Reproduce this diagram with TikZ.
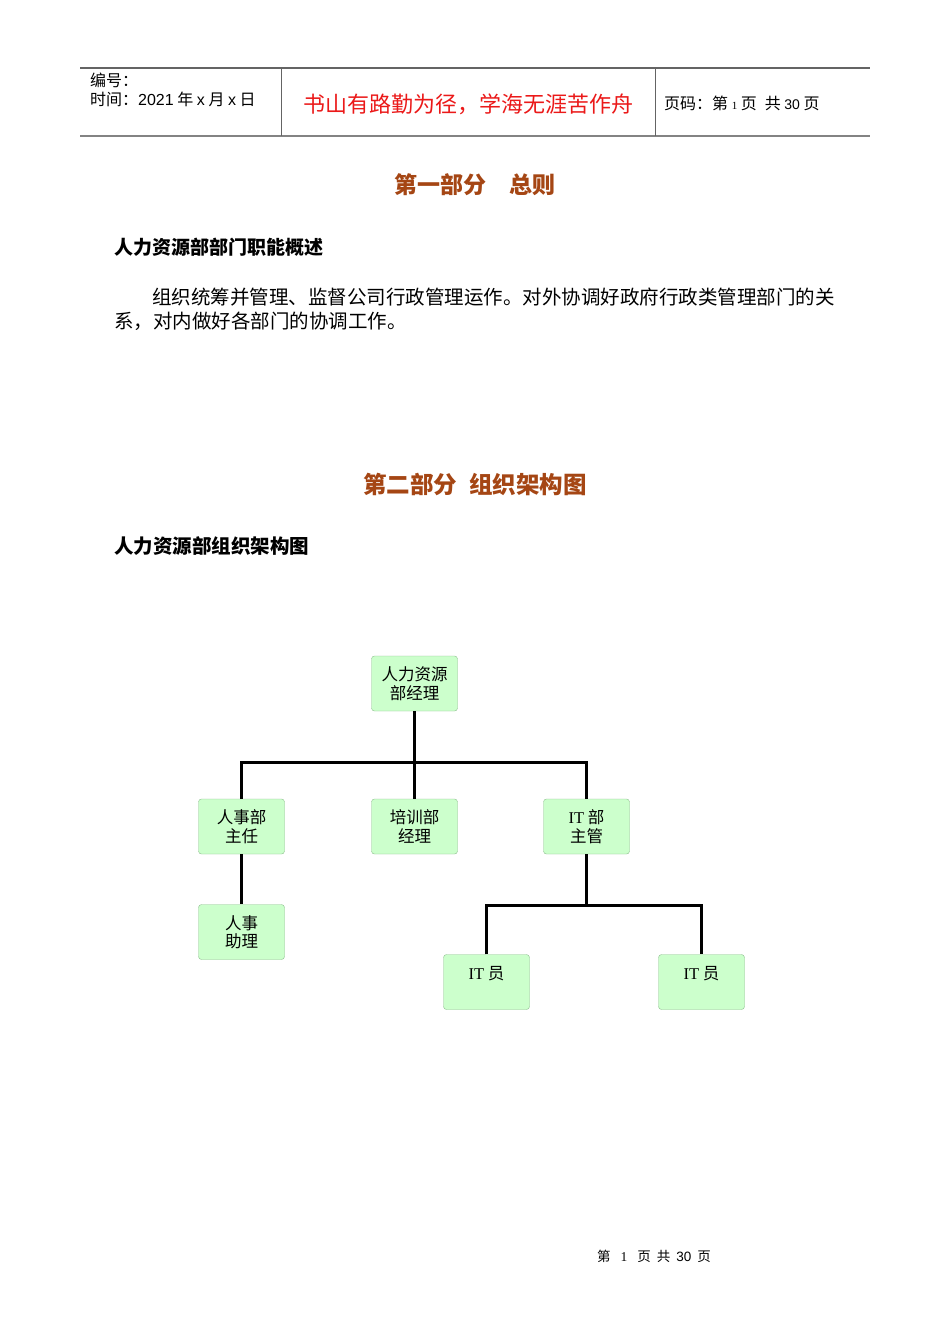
\documentclass[tikz,border=0pt]{standalone}
\usepackage{fontspec}
\usetikzlibrary{positioning}
\newfontfamily\cjk{Noto Sans CJK SC}
\newfontfamily\latinsans{Liberation Sans}
\newfontfamily\latinserif{Liberation Serif}
\definecolor{titleBrown}{RGB}{165, 70, 20}
\definecolor{mottoRed}{RGB}{235, 25, 25}
\definecolor{boxFill}{RGB}{204, 255, 204}
\definecolor{boxEdge}{RGB}{140, 190, 140}
\definecolor{ruleGray}{RGB}{100, 100, 100}

\tikzset{
  orgbox/.style={draw=boxEdge, fill=boxFill, rounded corners=3pt,
                 minimum width=86pt, minimum height=55pt, inner sep=0pt,
                 align=center, font=\cjk\fontsize{16.5pt}{18.5pt}\selectfont},
  orgline/.style={line width=3pt, black},
  plaintext/.style={inner sep=0pt, anchor=west},
}

\begin{document}
\begin{tikzpicture}[x=1pt, y=-1pt]
    \useasboundingbox[fill=white] (0,0) rectangle (950,1344);

    %% ── page header ─────────────────────────────────────────────────
    \draw[ruleGray, line width=1.2pt] (80,68) -- (870,68);
    \draw[ruleGray!80, line width=2pt] (80,136) -- (870,136);
    \draw[ruleGray, line width=0.8pt] (281,68) -- (281,136);
    \draw[ruleGray, line width=0.8pt] (655,68) -- (655,136);
    \node[plaintext, font=\cjk\fontsize{16pt}{17pt}\selectfont] (serialNo) at (90,80) {编号：};
    \node[plaintext, font=\cjk\fontsize{16pt}{17pt}\selectfont] (issueDate) at (90,99)
      {时间：{\latinsans 2021} 年 {\latinsans x} 月 {\latinsans x} 日};
    \node[font=\cjk\fontsize{22pt}{24pt}\selectfont, text=mottoRed, inner sep=0pt]
      (motto) at (468,104) {书山有路勤为径，学海无涯苦作舟};
    \node[plaintext, font=\cjk\fontsize{16pt}{17pt}\selectfont] (pageInfo) at (664,103)
      {页码：第 {\latinserif\fontsize{11pt}{12pt}\selectfont 1} 页\hspace{8pt}共 {\latinsans\fontsize{14pt}{15pt}\selectfont 30} 页};

    %% ── part one ────────────────────────────────────────────────────
    \node[font=\cjk\bfseries\fontsize{23pt}{25pt}\selectfont, text=titleBrown, inner sep=0pt]
      (partOne) at (475,185) {第一部分\hspace{23pt}总则};
    \node[plaintext, font=\cjk\bfseries\fontsize{19pt}{20pt}\selectfont] (dutyHead) at (114,247)
      {人力资源部部门职能概述};
    \node[plaintext, font=\cjk\fontsize{19.5pt}{20pt}\selectfont] (dutyLineA) at (152,297)
      {组织统筹并管理、监督公司行政管理运作。对外协调好政府行政类管理部门的关};
    \node[plaintext, font=\cjk\fontsize{19.5pt}{20pt}\selectfont] (dutyLineB) at (114,321)
      {系，对内做好各部门的协调工作。};

    %% ── part two ────────────────────────────────────────────────────
    \node[font=\cjk\bfseries\fontsize{23.5pt}{25pt}\selectfont, text=titleBrown, inner sep=0pt]
      (partTwo) at (475,484) {第二部分\hspace{12pt}组织架构图};
    \node[plaintext, font=\cjk\bfseries\fontsize{19.5pt}{20pt}\selectfont] (chartHead) at (114,546)
      {人力资源部组织架构图};

    %% ── org chart boxes ─────────────────────────────────────────────
    \node[orgbox] (hrManager) at (414.5,683.5) {人力资源\\部经理};
    \node[orgbox] (hrHead)    at (241.5,826.5) {人事部\\主任};
    \node[orgbox] (trainMgr)  at (414.5,826.5) {培训部\\经理};
    \node[orgbox] (itHead)    at (586.5,826.5) {{\latinserif IT} 部\\主管};
    \node[orgbox] (hrAide)    at (241.5,932)   {人事\\助理};
    \node[orgbox] (itStaffA)  at (486.5,982)   {{\latinserif IT} 员\\\mbox{}};
    \node[orgbox] (itStaffB)  at (701.5,982)   {{\latinserif IT} 员\\\mbox{}};

    %% ── org chart connectors ────────────────────────────────────────
    \coordinate (mgrBus) at (414.5,762);
    \coordinate (itBus)  at (586.5,905);
    \draw[orgline] (hrManager.south) -- (trainMgr.north);
    \draw[orgline] (hrHead.north) |- (mgrBus) -| (itHead.north);
    \draw[orgline] (hrHead.south) -- (hrAide.north);
    \draw[orgline] (itHead.south) -- (itBus);
    \draw[orgline] (itStaffA.north) |- (itBus) -| (itStaffB.north);

    %% ── page footer ─────────────────────────────────────────────────
    \node[font=\cjk\fontsize{13.5pt}{14pt}\selectfont, inner sep=0pt] (footer) at (654,1256)
      {第\hspace{10pt}{\latinserif 1}\hspace{10pt}页\hspace{6pt}共\hspace{6pt}{\latinsans 30}\hspace{6pt}页};
\end{tikzpicture}
\end{document}
